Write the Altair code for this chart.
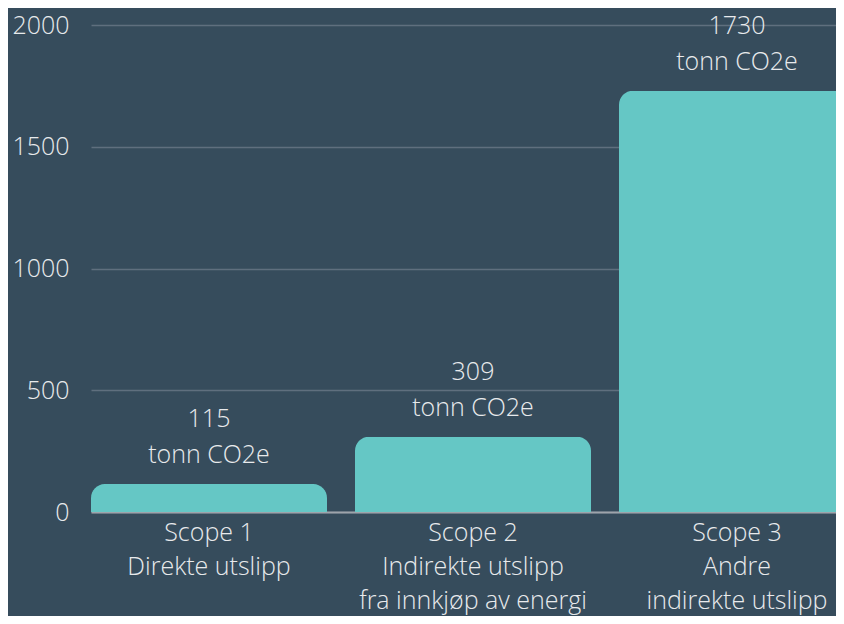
import altair as alt
import pandas as pd

categories = ["Scope 1|Direkte utslipp",
              "Scope 2|Indirekte utslipp|fra innkjøp av energi",
              "Scope 3|Andre|indirekte utslipp"]
values = [115, 309, 1730]
unit = "tonn CO2e"
y_ticks = [0, 500, 1000, 1500, 2000]

df = pd.DataFrame({"cat": categories, "value": values})
df["label"] = [f"{v}\n{unit}" for v in values]

BG = "#364C5C"
BAR = "#65C7C5"
TXT = "#E8EAEC"
FONT = "Open Sans"
FS = 25

x = alt.X("cat:N", sort=categories, title=None,
          scale=alt.Scale(range=[0, 764], paddingInner=0.106, paddingOuter=0),
          axis=alt.Axis(labelExpr="split(datum.label, '|')", labelAngle=0,
                        labelFontSize=FS, labelFont=FONT, labelFontWeight=300,
                        labelColor=TXT, labelLineHeight=34, labelPadding=8,
                        ticks=False, domainColor="#9EA4AB", domainWidth=2,
                        labelLimit=400))
y = alt.Y("value:Q", title=None,
          scale=alt.Scale(domain=[0, 2000], nice=False),
          axis=alt.Axis(values=y_ticks, format="d", labelFontSize=FS, labelFont=FONT,
                        labelFontWeight=300, labelColor=TXT, labelPadding=22,
                        ticks=False, domain=False, gridColor="#5F6F7E",
                        gridWidth=1.5))

bars = alt.Chart(df).mark_bar(color=BAR, cornerRadiusTopLeft=14,
                              cornerRadiusTopRight=14).encode(x=x, y=y)
text = alt.Chart(df).mark_text(lineBreak="\n", baseline="bottom", dy=-52,
                               fontSize=FS, font=FONT, fontWeight=300,
                               color=TXT, lineHeight=36).encode(
    x=alt.X("cat:N", sort=categories), y="value:Q", text="label:N")

chart = (bars + text).properties(
    width=745, height=487,
    padding={"left": 83, "top": 17, "right": 0, "bottom": 104},
    autosize=alt.AutoSizeParams(type="none"),
).configure(background=BG).configure_view(stroke=None)

chart.save("out.html", embed_options={"renderer": "svg", "actions": False})
